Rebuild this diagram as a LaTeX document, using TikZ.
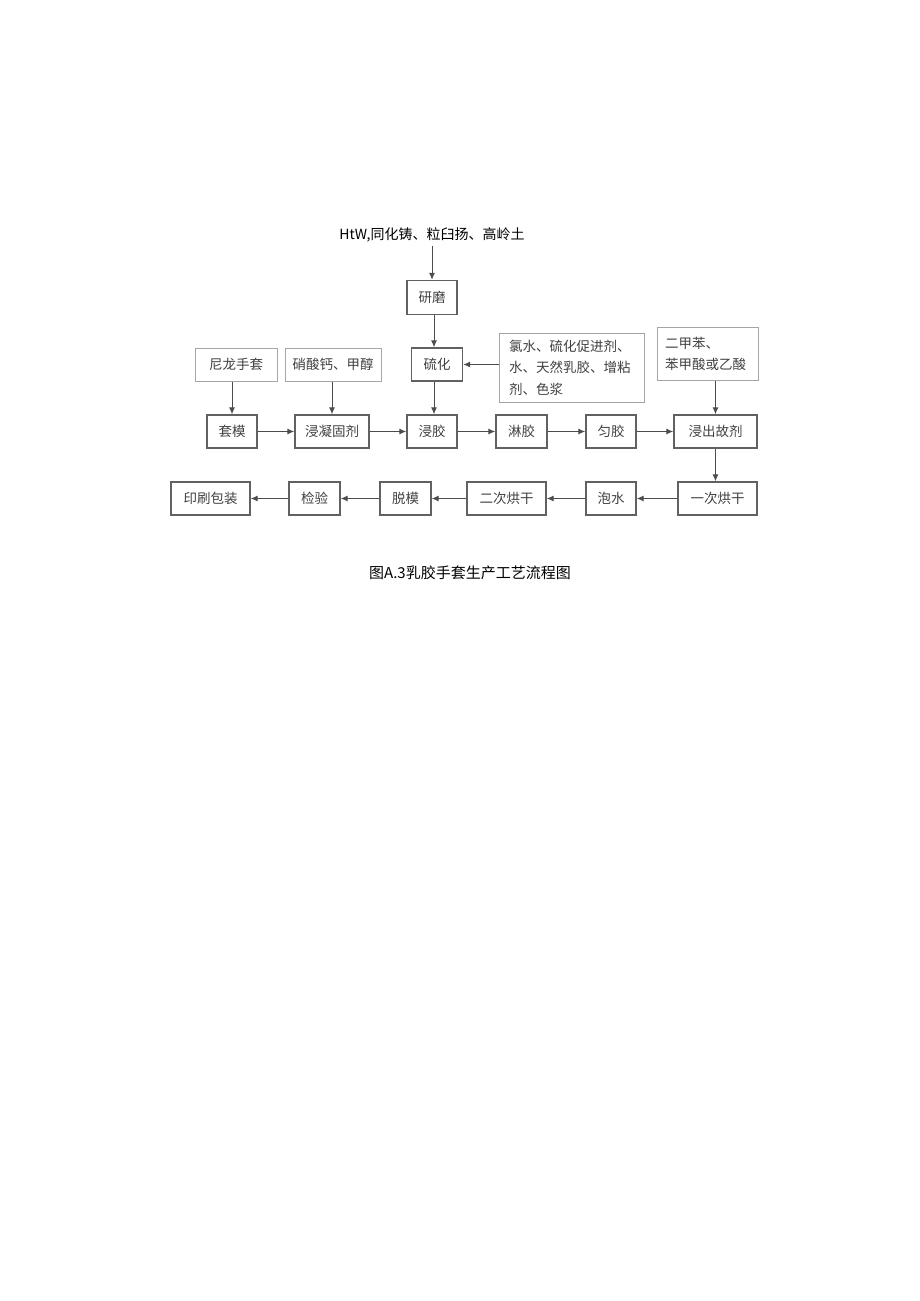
\documentclass[tikz,border=0pt]{standalone}
\usepackage{fontspec}
\setmainfont{Noto Sans CJK SC}
\usetikzlibrary{arrows.meta}
\begin{document}
\begin{tikzpicture}[x=1pt,y=-1pt,
  stepbox/.style={draw=black!62, line width=1.4pt, text=black!75, font=\fontsize{13.5}{16}\selectfont, inner sep=0pt, minimum height=33pt},
  inbox/.style={draw=black!35, line width=1pt, text=black!75, font=\fontsize{13.5}{16}\selectfont, inner sep=0pt},
  flow/.style={draw=black!70, line width=1pt, -{Latex[length=7pt,width=6pt]}}]
\useasboundingbox (0,0) rectangle (920,1301);
\node[font=\fontsize{14}{16}\selectfont, text=black] (top) at (432,235) {HtW,同化铸、粒臼扬、高岭土};
\node[stepbox, minimum width=50pt, minimum height=34pt] (yanmo) at (432,297.5) {研磨};
\node[stepbox, minimum width=51pt] (liuhua) at (437,364.5) {硫化};
\node[inbox, minimum width=82pt, minimum height=33pt] (nilong) at (236,364.5) {尼龙手套};
\node[inbox, minimum width=96pt, minimum height=33pt] (xiaosuan) at (333,364.5) {硝酸钙、甲醇};
\node[inbox, minimum width=145pt, minimum height=69pt, text width=125pt, align=left, font=\fontsize{13.5}{21.5}\selectfont] (lvshui) at (571.5,367.5) {氯水、硫化促进剂、\\水、天然乳胶、增粘\\剂、色浆};
\node[inbox, minimum width=101pt, minimum height=53pt, text width=86pt, align=left, font=\fontsize{13.5}{21}\selectfont] (erjiaben) at (708,353.5) {二甲苯、\\苯甲酸或乙酸};
\node[stepbox, minimum width=50pt] (taomo) at (232,431.5) {套模};
\node[stepbox, minimum width=74pt] (jinning) at (332,431.5) {浸凝固剂};
\node[stepbox, minimum width=50pt] (jinjiao) at (432,431.5) {浸胶};
\node[stepbox, minimum width=51pt] (linjiao) at (521.5,431.5) {淋胶};
\node[stepbox, minimum width=50pt] (yunjiao) at (611,431.5) {匀胶};
\node[stepbox, minimum width=83pt] (jinchu) at (715.5,431.5) {浸出故剂};
\node[stepbox, minimum width=79pt] (yici) at (717.5,498.5) {一次烘干};
\node[stepbox, minimum width=50pt] (paoshui) at (611,498.5) {泡水};
\node[stepbox, minimum width=79pt] (erci) at (506.5,498.5) {二次烘干};
\node[stepbox, minimum width=51pt] (tuomo) at (405.5,498.5) {脱模};
\node[stepbox, minimum width=51pt] (jianyan) at (314.5,498.5) {检验};
\node[stepbox, minimum width=79pt] (yinshua) at (210.5,498.5) {印刷包装};
\node[font=\fontsize{15}{18}\selectfont, text=black] (caption) at (470,573) {图A.3乳胶手套生产工艺流程图};
% connectors
\draw[flow] (top.south -| yanmo) -- (yanmo.north);
\draw[flow] (yanmo.south -| 434,0) -- (liuhua.north -| 434,0);
\draw[flow] (liuhua.south -| 434,0) -- (jinjiao.north -| 434,0);
\draw[flow] (lvshui.west |- liuhua.east) -- (liuhua.east);
\draw[flow] (nilong.south -| taomo) -- (taomo.north);
\draw[flow] (xiaosuan.south -| jinning) -- (jinning.north);
\draw[flow] (erjiaben.south -| jinchu) -- (jinchu.north);
\draw[flow] (taomo.east) -- (jinning.west);
\draw[flow] (jinning.east) -- (jinjiao.west);
\draw[flow] (jinjiao.east) -- (linjiao.west);
\draw[flow] (linjiao.east) -- (yunjiao.west);
\draw[flow] (yunjiao.east) -- (jinchu.west);
\draw[flow] (jinchu.south) -- (jinchu.south |- yici.north);
\draw[flow] (yici.west) -- (paoshui.east);
\draw[flow] (paoshui.west) -- (erci.east);
\draw[flow] (erci.west) -- (tuomo.east);
\draw[flow] (tuomo.west) -- (jianyan.east);
\draw[flow] (jianyan.west) -- (yinshua.east);
\end{tikzpicture}
\end{document}
